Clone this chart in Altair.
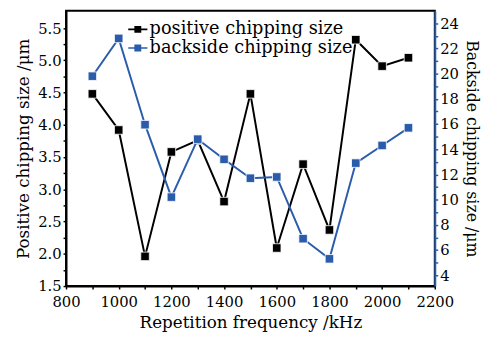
import altair as alt
import pandas as pd

freq = [900, 1000, 1100, 1200, 1300, 1400, 1500, 1600, 1700, 1800, 1900, 2000, 2100]
positive = [4.48, 3.92, 1.96, 3.58, 3.76, 2.81, 4.48, 2.09, 3.39, 2.37, 5.32, 4.91, 5.04]
backside = [19.8, 22.8, 15.95, 10.2, 14.8, 13.2, 11.7, 11.8, 6.9, 5.3, 12.9, 14.3, 15.7]

names = ["positive chipping size", "backside chipping size"]
colors = ["#000000", "#2b5cab"]

df_pos = pd.DataFrame({"freq": freq, "value": positive, "series": names[0]})
df_back = pd.DataFrame({"freq": freq, "value": backside, "series": names[1]})

FONT = "DejaVu Serif"

x_enc = alt.X("freq:Q", scale=alt.Scale(domain=[800, 2200], nice=False, zero=False),
              axis=alt.Axis(title="Repetition frequency /kHz",
                            values=list(range(800, 2201, 100)),
                            labelExpr="datum.value % 200 == 0 ? datum.value : ''",
                            labelOverlap=False, labelFlush=False,
                            tickSize=3, labelPadding=6, titlePadding=5,
                            domainColor="black", tickColor="black", grid=False))

legend_path = "M-1,-0.08 H1 V0.08 H-1 Z M-0.36,-0.36 H0.36 V0.36 H-0.36 Z"
color_enc = alt.Color("series:N",
                      scale=alt.Scale(domain=names, range=colors),
                      legend=alt.Legend(title=None, orient="none", legendX=63, legendY=9,
                                        symbolType=legend_path, symbolSize=380,
                                        symbolStrokeWidth=0, labelFontSize=18,
                                        labelFont=FONT, labelLimit=400, rowPadding=0,
                                        labelOffset=2, padding=0, labelColor="black"))

pos_axis = alt.Axis(title="Positive chipping size /μm",
                    values=[1.5 + 0.25 * i for i in range(17)],
                    labelExpr="(datum.value * 2) % 1 == 0 ? format(datum.value, '.1f') : ''",
                    labelOverlap=False, labelFlush=False,
                    tickSize=3, labelPadding=2, titlePadding=5, grid=False,
                    domainColor="black", tickColor="black")
back_axis = alt.Axis(title="Backside chipping size /μm", orient="right",
                     values=list(range(4, 25)),
                     labelExpr="datum.value % 2 == 0 ? datum.value : ''",
                     labelOverlap=False, labelFlush=False,
                     tickSize=3, labelPadding=2, titlePadding=5, grid=False,
                     titleFontSize=16,
                     domainColor="#2b5cab", tickColor="#2b5cab")

MS = 75
pos_base = alt.Chart(df_pos).encode(
    x=x_enc,
    y=alt.Y("value:Q", scale=alt.Scale(domain=[1.5, 5.77], nice=False, zero=False), axis=pos_axis),
    color=color_enc,
)
pos = pos_base.mark_line(strokeWidth=2) + pos_base.mark_point(shape="square", filled=True, size=MS, opacity=1, stroke="white", strokeWidth=0.8)

back_base = alt.Chart(df_back).encode(
    x=x_enc,
    y=alt.Y("value:Q", scale=alt.Scale(domain=[3.14, 25.0], nice=False, zero=False), axis=back_axis),
    color=color_enc,
)
back = back_base.mark_line(strokeWidth=2) + back_base.mark_point(shape="square", filled=True, size=MS, opacity=1, stroke="white", strokeWidth=0.8)

chart = alt.layer(pos, back).resolve_scale(y="independent").properties(
    width=375, height=280,
    autosize=alt.AutoSizeParams(type="none"),
    padding={"left": 59, "top": 0, "right": 48, "bottom": 44},
    background="white",
).configure_view(stroke="black", strokeWidth=2).configure_axis(
    labelFont=FONT, titleFont=FONT, labelFontSize=15, titleFontSize=17,
    titleFontWeight="normal", labelColor="black", titleColor="black",
    domainWidth=2, tickWidth=1.5,
)

chart.save("out.html", embed_options={"renderer": "svg", "actions": False})
